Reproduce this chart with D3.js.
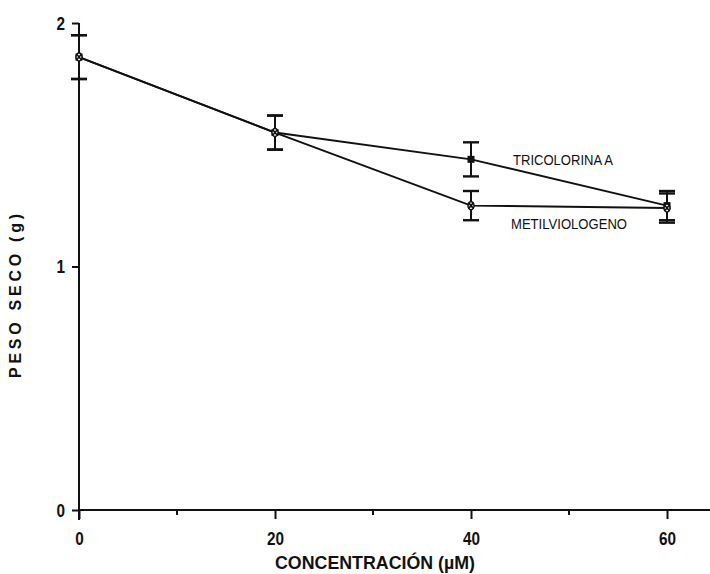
<!DOCTYPE html>
<html>
<head>
<meta charset="utf-8">
<script src="https://cdn.jsdelivr.net/npm/d3@7"></script>
<style>
  html, body { margin: 0; padding: 0; background: #fff; }
  svg { display: block; }
  text { fill: #111; }
</style>
</head>
<body>
<svg id="chart" width="710" height="574"></svg>
<script>
// Concentration levels (µM)
const concentracion = [0, 20, 40, 60];
// Dry weight (g) and error for each treatment
const tricolorina = [1.86, 1.55, 1.44, 1.25];
const tricolorinaErr = [0.09, 0.07, 0.07, 0.06];
const metilviologeno = [1.86, 1.55, 1.25, 1.24];
const metilviologenoErr = [0.09, 0.07, 0.06, 0.06];
// Axis ticks
const xTicks = [0, 20, 40, 60];
const xMinorTicks = [10, 30, 50];
const yTicks = [0, 1, 2];

const svg = d3.select("#chart");
const ink = "#111";
const sans = "'Liberation Sans', Arial, sans-serif";

const x = d3.scaleLinear().domain([0, 60]).range([79, 667]);
const y = d3.scaleLinear().domain([0, 2]).range([510, 23]);

// Condensed look for the bold tick digits
function squeeze(sel, k) {
  sel.each(function () {
    const t = d3.select(this);
    const tx = +t.attr("x") || 0;
    const ty = +t.attr("y") || 0;
    t.attr("transform", `translate(${tx},${ty}) scale(${k},1)`)
     .attr("x", 0).attr("y", 0);
  });
}

// X axis: baseline runs past the last tick
svg.append("line")
  .attr("x1", x(0)).attr("x2", 710)
  .attr("y1", y(0)).attr("y2", y(0))
  .attr("stroke", ink).attr("stroke-width", 2);

const xAxis = d3.axisBottom(x).tickValues(xTicks).tickSize(9).tickSizeOuter(0).tickFormat(d3.format("d"));
const gx = svg.append("g").attr("transform", `translate(0,${y(0)})`).call(xAxis);
gx.select(".domain").remove();
gx.selectAll(".tick line").attr("stroke", ink).attr("stroke-width", 2);
gx.selectAll(".tick text")
  .attr("y", 35).attr("dy", 0)
  .attr("font-family", sans).attr("font-weight", "bold").attr("font-size", 18)
  .attr("fill", ink)
  .call(squeeze, 0.85);

svg.append("g").selectAll("line").data(xMinorTicks).join("line")
  .attr("x1", d => x(d)).attr("x2", d => x(d))
  .attr("y1", y(0)).attr("y2", y(0) + 5)
  .attr("stroke", ink).attr("stroke-width", 2);

// Y axis
const yAxis = d3.axisLeft(y).tickValues(yTicks).tickSize(7).tickSizeOuter(0).tickFormat(d3.format("d"));
const gy = svg.append("g").attr("transform", `translate(${x(0)},0)`).call(yAxis);
gy.select(".domain").attr("stroke", ink).attr("stroke-width", 2)
  .attr("d", `M0,${y(2)}V${y(0) + 10}`);
gy.selectAll(".tick line").attr("stroke", ink).attr("stroke-width", 2);
gy.selectAll(".tick text")
  .attr("x", -14).attr("y", 6).attr("dy", 0)
  .attr("font-family", sans).attr("font-weight", "bold").attr("font-size", 18)
  .attr("fill", ink)
  .call(squeeze, 0.85);

// Axis titles
svg.append("text")
  .attr("x", 375).attr("y", 569)
  .attr("text-anchor", "middle")
  .attr("font-family", sans).attr("font-weight", "bold").attr("font-size", 18)
  .attr("textLength", 200).attr("lengthAdjust", "spacingAndGlyphs")
  .text("CONCENTRACIÓN (µM)");

svg.append("text")
  .attr("transform", `translate(21,${296}) rotate(-90)`)
  .attr("text-anchor", "middle")
  .attr("font-family", sans)
  .attr("font-weight", "bold").attr("font-size", 16)
  .attr("textLength", 164).attr("lengthAdjust", "spacing")
  .text("PESO SECO (g)");

// Series
const series = [
  { name: "TRICOLORINA A", values: tricolorina, err: tricolorinaErr, marker: "square" },
  { name: "METILVIOLOGENO", values: metilviologeno, err: metilviologenoErr, marker: "cross" }
];

const line = d3.line().x(d => x(d[0])).y(d => y(d[1]));

series.forEach(s => {
  const pts = concentracion.map((c, i) => [c, s.values[i], s.err[i]]);
  svg.append("path")
    .datum(pts)
    .attr("d", line)
    .attr("fill", "none").attr("stroke", ink).attr("stroke-width", 2);

  const eb = svg.append("g");
  pts.forEach(p => {
    const cx = x(p[0]);
    eb.append("line")
      .attr("x1", cx).attr("x2", cx)
      .attr("y1", y(p[1] - p[2])).attr("y2", y(p[1] + p[2]))
      .attr("stroke", ink).attr("stroke-width", 2);
    [p[1] - p[2], p[1] + p[2]].forEach(v => {
      eb.append("line")
        .attr("x1", cx - 8).attr("x2", cx + 8)
        .attr("y1", y(v)).attr("y2", y(v))
        .attr("stroke", ink).attr("stroke-width", 2.4);
    });
  });

  const mk = svg.append("g");
  pts.forEach(p => {
    const cx = x(p[0]), cy = y(p[1]);
    if (s.marker === "square") {
      mk.append("rect")
        .attr("x", cx - 3.5).attr("y", cy - 3.5)
        .attr("width", 7).attr("height", 7)
        .attr("fill", ink);
    } else {
      mk.append("ellipse")
        .attr("cx", cx).attr("cy", cy).attr("rx", 3).attr("ry", 4)
        .attr("fill", "#fff").attr("stroke", ink).attr("stroke-width", 1.5);
      mk.append("path")
        .attr("d", `M${cx - 2.5},${cy - 3}L${cx + 2.5},${cy + 3}M${cx + 2.5},${cy - 3}L${cx - 2.5},${cy + 3}`)
        .attr("stroke", ink).attr("stroke-width", 1.6);
    }
  });
});

// Series labels
svg.append("text")
  .attr("x", 513).attr("y", 165)
  .attr("font-family", sans).attr("font-size", 15)
  .attr("textLength", 100).attr("lengthAdjust", "spacingAndGlyphs")
  .text("TRICOLORINA A");

svg.append("text")
  .attr("x", 511).attr("y", 229)
  .attr("font-family", sans).attr("font-size", 15)
  .attr("textLength", 116).attr("lengthAdjust", "spacingAndGlyphs")
  .text("METILVIOLOGENO");
</script>
</body>
</html>
